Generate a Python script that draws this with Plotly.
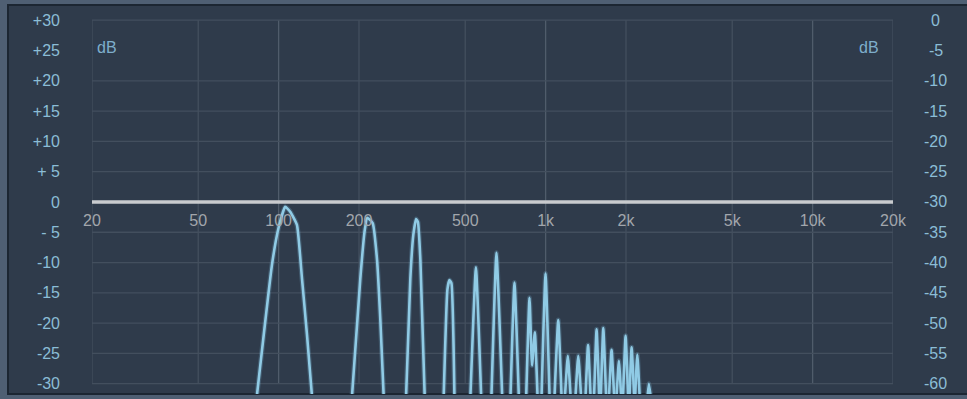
import plotly.graph_objects as go

# Frequency axis ticks (Hz) and their labels
freq_ticks = [20, 50, 100, 200, 500, 1000, 2000, 5000, 10000, 20000]
freq_labels = ["20", "50", "100", "200", "500", "1k", "2k", "5k", "10k", "20k"]

# Left level scale (dB)
left_vals = [30, 25, 20, 15, 10, 5, 0, -5, -10, -15, -20, -25, -30]
left_labels = ["+30", "+25", "+20", "+15", "+10", "+ 5", "0", "- 5",
               "-10", "-15", "-20", "-25", "-30"]

# Right level scale (dB)
right_vals = [0, -5, -10, -15, -20, -25, -30, -35, -40, -45, -50, -55, -60]
right_labels = ["0", "-5", "-10", "-15", "-20", "-25", "-30", "-35",
                "-40", "-45", "-50", "-55", "-60"]

# Horizontal grid levels (dB)
grid_levels = [30, 20, 15, 10, 5, -5, -10, -15, -20, -25, -30]

# Flat reference response
flat_hz = [20, 20000]
flat_db = [0, 0]

# Harmonic spectrum, one lobe per harmonic (None separates lobes)
spectrum_hz = [
    82.9, 94.4, 99.9, 105.8, 110.5, 117.1, 122.3, 127.7, 133.3, None,
    188.3, 202.3, 210.2, 214.9, 220.4, 225.2, 233.7, 240.4, 247.4, None,
    300.2, 311.4, 319.6, 327.2, 332.4, 339.6, 352.4, None,
    415.2, 428.6, 436.2, 443.8, 455.4, None,
    522.8, 548.2, 573.4, None,
    626.8, 654.4, 687.4, None,
    738.6, 764.4, 793.4, None,
    845.8, 870.2, 889.2, 911.0, 932.6, None,
    965.4, 999.2, 1034.4, None,
    1079.8, 1115.0, 1147.0, None,
    1182.0, 1211.0, 1240.0, None,
    1294.0, 1325.0, 1357.0, None,
    1411.0, 1442.0, 1473.0, None,
    1519.0, 1552.0, 1586.0, None,
    1610.0, 1644.0, 1684.0, None,
    1728.0, 1766.0, 1805.0, None,
    1844.0, 1881.0, 1917.0, None,
    1950.0, 1993.0, 2036.0, None,
    2062.0, 2099.0, 2145.0, None,
    2164.0, 2205.0, 2249.0, None,
    2410.0, 2436.0, 2472.0,
]
spectrum_db = [
    -32, -10.4, -4.3, -0.8, -1.6, -3.8, -12.6, -21.9, -32, None,
    -32, -12.6, -4.6, -2.6, -3.0, -3.5, -9.6, -19.4, -32, None,
    -32, -12.6, -5.4, -2.8, -3.3, -9.6, -32, None,
    -32, -14.5, -12.9, -13.4, -32, None,
    -32, -10.8, -32, None,
    -32, -8.4, -32, None,
    -32, -13.3, -32, None,
    -32, -15.8, -27.0, -21.5, -32, None,
    -32, -11.8, -32, None,
    -32, -19.5, -32, None,
    -32, -25.4, -32, None,
    -32, -25.4, -32, None,
    -32, -23.6, -32, None,
    -32, -21.0, -32, None,
    -32, -20.8, -32, None,
    -32, -24.4, -32, None,
    -32, -26.2, -32, None,
    -32, -22.1, -32, None,
    -32, -24.0, -32, None,
    -32, -25.2, -32, None,
    -32, -30.0, -32,
]

W, H = 967, 399
L, R, T, B = 92, 74, 19, 5
Y_RANGE = [-31.7, 30.2]
PANEL = "#2f3b4b"
GRID = "#434f5e"
GRID_DECADE = "#505c6b"
FONT = "Liberation Sans, Arial, sans-serif"


def px_x(p):
    return (p - L) / (W - L - R)


def px_y(p):
    return 1 - (p - T) / (H - T - B)


fig = go.Figure()

# spectrum glow and line
fig.add_trace(go.Scatter(x=spectrum_hz, y=spectrum_db, mode="lines",
                         line=dict(color="rgba(130,200,235,0.22)", width=5,
                                   shape="spline", smoothing=0.4),
                         connectgaps=False, hoverinfo="skip"))
fig.add_trace(go.Scatter(x=spectrum_hz, y=spectrum_db, mode="lines",
                         line=dict(color="#90cbe5", width=2.6, shape="spline",
                                   smoothing=0.4),
                         connectgaps=False))
# flat 0 dB line
fig.add_trace(go.Scatter(x=flat_hz, y=flat_db, mode="lines",
                         line=dict(color="#c9cbce", width=3.5)))

shapes = []
# outer panel
shapes.append(dict(type="rect", xref="paper", yref="paper",
                   x0=px_x(8), x1=px_x(975), y0=px_y(394), y1=px_y(5),
                   fillcolor=PANEL, line=dict(color="#1c2632", width=2),
                   layer="below"))
for f in freq_ticks:
    col = GRID_DECADE if f in (100, 1000, 10000) else GRID
    shapes.append(dict(type="line", xref="x", yref="y",
                       x0=f, x1=f, y0=-30, y1=30,
                       line=dict(color=col, width=1.3), layer="below"))
for v in grid_levels:
    shapes.append(dict(type="line", xref="x", yref="y",
                       x0=freq_ticks[0], x1=freq_ticks[-1],
                       y0=v, y1=v, line=dict(color=GRID, width=1.3),
                       layer="below"))

annotations = []
for v, t in zip(right_vals, right_labels):
    annotations.append(dict(x=px_x(936), xref="paper", y=v, yref="y2",
                            text=t, showarrow=False, xanchor="center",
                            yanchor="middle",
                            font=dict(family=FONT, size=16, color="#8bbdd6")))
annotations.append(dict(x=px_x(95), xref="paper", y=25.5, yref="y", text="dB",
                        showarrow=False, xanchor="left", yanchor="middle",
                        font=dict(family=FONT, size=16, color="#7eaecb")))
annotations.append(dict(x=px_x(881), xref="paper", y=25.5, yref="y", text="dB",
                        showarrow=False, xanchor="right", yanchor="middle",
                        font=dict(family=FONT, size=16, color="#7eaecb")))

fig.update_layout(
    width=W, height=H,
    margin=dict(l=L, r=R, t=T, b=B, pad=0),
    paper_bgcolor="#4f5f73",
    plot_bgcolor="rgba(0,0,0,0)",
    showlegend=False,
    shapes=shapes,
    annotations=annotations,
    xaxis=dict(type="log", range=[1.30103, 4.30103], showgrid=False,
               zeroline=False, showline=False, tickvals=freq_ticks,
               ticktext=freq_labels, ticks="", anchor="free",
               position=(0 - Y_RANGE[0]) / (Y_RANGE[1] - Y_RANGE[0]),
               ticklabelstandoff=7,
               tickfont=dict(family=FONT, size=16, color="#a2a6ac")),
    yaxis=dict(range=Y_RANGE, showgrid=False, zeroline=False, showline=False,
               tickvals=left_vals, ticktext=left_labels, ticks="",
               ticklabelstandoff=31,
               tickfont=dict(family=FONT, size=16, color="#8bbdd6")),
    yaxis2=dict(range=[Y_RANGE[0] - 30, Y_RANGE[1] - 30], overlaying="y",
                side="right", showgrid=False, zeroline=False, showline=False,
                showticklabels=False, ticks=""),
)

fig.write_html("out.html")
